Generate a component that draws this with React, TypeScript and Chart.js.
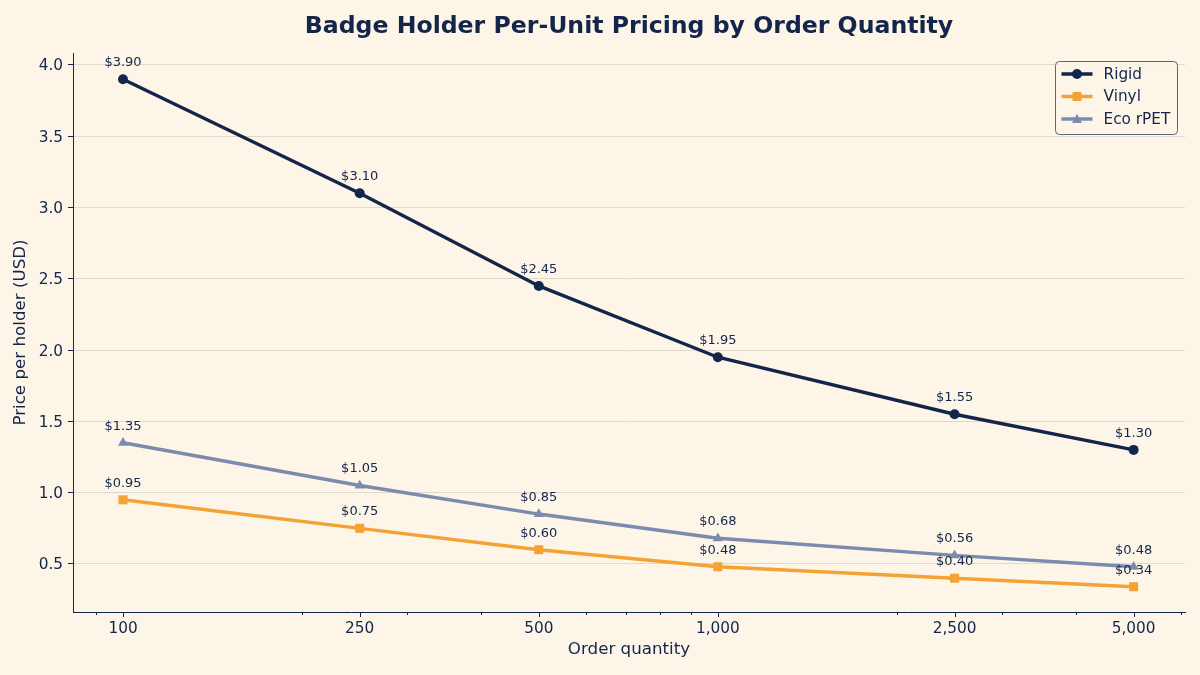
import React, { useEffect, useRef } from "react";
import { Chart, registerables } from "chart.js";

Chart.register(...registerables);

// Order quantities (x) and per-unit prices (USD) for each holder type
const quantities = [100, 250, 500, 1000, 2500, 5000];
const rigidPrices = [3.9, 3.1, 2.45, 1.95, 1.55, 1.3];
const vinylPrices = [0.95, 0.75, 0.6, 0.48, 0.4, 0.34];
const ecoPrices = [1.35, 1.05, 0.85, 0.68, 0.56, 0.48];

// Axis ticks
const xMajorTicks = [100, 250, 500, 1000, 2500, 5000];
const xMinorTicks = [90, 200, 300, 400, 600, 700, 800, 900, 2000, 3000, 4000, 6000];
const yTicks = [0.5, 1.0, 1.5, 2.0, 2.5, 3.0, 3.5, 4.0];

const TITLE = "Badge Holder Per-Unit Pricing by Order Quantity";

const NAVY = "#13254a";
const ORANGE = "#f4a233";
const SLATE = "#7a8bae";
const BG = "#fdf5e7";
const GRID = "#e0dace";
const FONT = "'DejaVu Sans', sans-serif";

const seriesDefs = [
  { label: "Rigid", values: rigidPrices, color: NAVY, style: "circle", radius: 5 },
  { label: "Vinyl", values: vinylPrices, color: ORANGE, style: "rect", radius: 6.4 },
  { label: "Eco rPET", values: ecoPrices, color: SLATE, style: "triangle", radius: 5.8 },
];

const formatQty = (v: number) => v.toLocaleString("en-US");

// Title centred over the plotting area
const axesTitle = {
  id: "axesTitle",
  afterDraw(chart: any) {
    const { ctx, chartArea } = chart;
    ctx.save();
    ctx.font = `bold 23.6px ${FONT}`;
    ctx.fillStyle = NAVY;
    ctx.textAlign = "center";
    ctx.textBaseline = "middle";
    ctx.fillText(TITLE, (chartArea.left + chartArea.right) / 2, 27);
    ctx.restore();
  },
};

// Short/long tick marks under the log x axis
const xTickMarks = {
  id: "xTickMarks",
  afterDraw(chart: any) {
    const { ctx, scales } = chart;
    const x = scales.x;
    const y0 = chart.chartArea.bottom;
    ctx.save();
    ctx.strokeStyle = NAVY;
    ctx.lineWidth = 1;
    const all = [...xMajorTicks.map((v) => [v, 5]), ...xMinorTicks.map((v) => [v, 3])];
    for (const [v, len] of all) {
      const px = Math.round(x.getPixelForValue(v)) + 0.5;
      ctx.beginPath();
      ctx.moveTo(px, y0);
      ctx.lineTo(px, y0 + len);
      ctx.stroke();
    }
    ctx.restore();
  },
};

// "$x.xx" price labels above every point
const priceLabels = {
  id: "priceLabels",
  afterDatasetsDraw(chart: any) {
    const { ctx } = chart;
    ctx.save();
    ctx.font = `13px ${FONT}`;
    ctx.fillStyle = NAVY;
    ctx.textAlign = "center";
    ctx.textBaseline = "bottom";
    chart.data.datasets.forEach((ds: any, i: number) => {
      const meta = chart.getDatasetMeta(i);
      meta.data.forEach((pt: any, j: number) => {
        const v = ds.data[j].y;
        ctx.fillText(`$${v.toFixed(2)}`, pt.x, pt.y - 10);
      });
    });
    ctx.restore();
  },
};

// Legend box with line + marker samples
const lineLegend = {
  id: "lineLegend",
  afterDraw(chart: any) {
    const { ctx } = chart;
    const left = 1055.5;
    const top = 61.5;
    const w = 122;
    const h = 73;
    ctx.save();
    ctx.beginPath();
    ctx.roundRect(left, top, w, h, 4);
    ctx.fillStyle = "rgba(253,245,231,0.85)";
    ctx.fill();
    ctx.strokeStyle = "#5d6478";
    ctx.lineWidth = 1;
    ctx.stroke();
    ctx.font = `15.3px ${FONT}`;
    ctx.textBaseline = "middle";
    ctx.textAlign = "left";
    seriesDefs.forEach((s, i) => {
      const cy = top + 12.5 + i * 22.5;
      ctx.strokeStyle = s.color;
      ctx.lineWidth = 3.5;
      ctx.beginPath();
      ctx.moveTo(left + 6, cy);
      ctx.lineTo(left + 37, cy);
      ctx.stroke();
      ctx.fillStyle = s.color;
      ctx.beginPath();
      const mx = left + 21.5;
      if (s.style === "circle") {
        ctx.arc(mx, cy, 5, 0, Math.PI * 2);
        ctx.fill();
      } else if (s.style === "rect") {
        ctx.fillRect(mx - 4.5, cy - 4.5, 9, 9);
      } else {
        ctx.moveTo(mx, cy - 5);
        ctx.lineTo(mx + 5, cy + 4);
        ctx.lineTo(mx - 5, cy + 4);
        ctx.closePath();
        ctx.fill();
      }
      ctx.fillStyle = NAVY;
      ctx.fillText(s.label, left + 48, cy + 1);
    });
    ctx.restore();
  },
};

export default function App() {
  const canvasRef = useRef<HTMLCanvasElement | null>(null);

  useEffect(() => {
    const canvas = canvasRef.current;
    if (!canvas) return;
    const chart = new Chart(canvas, {
      type: "line",
      data: {
        datasets: seriesDefs.map((s) => ({
          label: s.label,
          data: quantities.map((q, i) => ({ x: q, y: s.values[i] })),
          borderColor: s.color,
          backgroundColor: s.color,
          borderWidth: 3.4,
          pointStyle: s.style as any,
          pointRadius: s.radius,
          pointBorderWidth: 0,
          tension: 0,
          fill: false,
        })),
      },
      options: {
        responsive: false,
        animation: false,
        layout: { padding: { left: 0, right: 15, top: 53, bottom: 0 } },
        plugins: {
          legend: { display: false },
          tooltip: { enabled: false },
          title: { display: false },
        },
        scales: {
          x: {
            type: "logarithmic",
            min: 82.4,
            max: 6100,
            afterFit(scale: any) {
              scale.height = 63;
            },
            afterBuildTicks(scale: any) {
              scale.ticks = [...xMajorTicks, ...xMinorTicks]
                .sort((a, b) => a - b)
                .map((v) => ({ value: v }));
            },
            grid: { display: false, drawTicks: true, tickLength: 5 },
            border: { display: true, color: NAVY, width: 1 },
            ticks: {
              autoSkip: false,
              maxRotation: 0,
              color: NAVY,
              padding: 3,
              font: { family: FONT, size: 15.3 },
              callback: (value: any) => (xMajorTicks.includes(value) ? formatQty(value) : ""),
            },
            title: {
              display: true,
              text: "Order quantity",
              color: NAVY,
              font: { family: FONT, size: 16.7 },
              padding: { top: 0, bottom: 15 },
            },
          },
          y: {
            type: "linear",
            min: 0.163,
            max: 4.084,
            afterFit(scale: any) {
              scale.width = 73;
            },
            afterBuildTicks(scale: any) {
              scale.ticks = yTicks.map((v) => ({ value: v }));
            },
            grid: { color: GRID, lineWidth: 1, tickColor: NAVY, tickLength: 5, drawTicks: true },
            border: { display: true, color: NAVY, width: 1 },
            ticks: {
              color: NAVY,
              padding: 5,
              labelOffset: 1.5,
              font: { family: FONT, size: 15.3 },
              callback: (value: any) => Number(value).toFixed(1),
            },
            title: {
              display: true,
              text: "Price per holder (USD)",
              color: NAVY,
              font: { family: FONT, size: 16.7 },
              padding: { top: 11, bottom: 0 },
            },
          },
        },
      },
      plugins: [axesTitle, xTickMarks, priceLabels, lineLegend],
    });
    return () => chart.destroy();
  }, []);

  return (
    <div
      style={{
        position: "fixed",
        left: 0,
        top: 0,
        width: 1200,
        height: 675,
        background: BG,
      }}
    >
      <canvas ref={canvasRef} width={1200} height={675} style={{ display: "block" }} />
    </div>
  );
}
